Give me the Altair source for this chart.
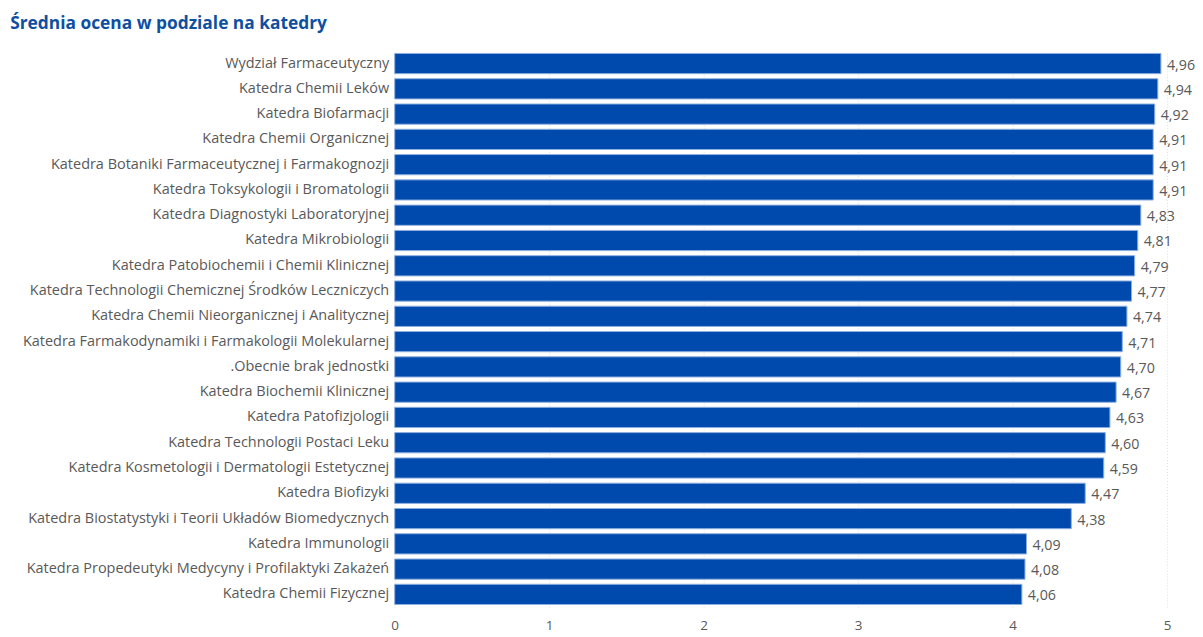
import altair as alt
import pandas as pd

categories = [
    "Wydział Farmaceutyczny",
    "Katedra Chemii Leków",
    "Katedra Biofarmacji",
    "Katedra Chemii Organicznej",
    "Katedra Botaniki Farmaceutycznej i Farmakognozji",
    "Katedra Toksykologii i Bromatologii",
    "Katedra Diagnostyki Laboratoryjnej",
    "Katedra Mikrobiologii",
    "Katedra Patobiochemii i Chemii Klinicznej",
    "Katedra Technologii Chemicznej Środków Leczniczych",
    "Katedra Chemii Nieorganicznej i Analitycznej",
    "Katedra Farmakodynamiki i Farmakologii Molekularnej",
    ".Obecnie brak jednostki",
    "Katedra Biochemii Klinicznej",
    "Katedra Patofizjologii",
    "Katedra Technologii Postaci Leku",
    "Katedra Kosmetologii i Dermatologii Estetycznej",
    "Katedra Biofizyki",
    "Katedra Biostatystyki i Teorii Układów Biomedycznych",
    "Katedra Immunologii",
    "Katedra Propedeutyki Medycyny i Profilaktyki Zakażeń",
    "Katedra Chemii Fizycznej",
]
values = [4.96, 4.94, 4.92, 4.91, 4.91, 4.91, 4.83, 4.81, 4.79, 4.77, 4.74,
          4.71, 4.70, 4.67, 4.63, 4.60, 4.59, 4.47, 4.38, 4.09, 4.08, 4.06]

df = pd.DataFrame({"katedra": categories, "ocena": values})
df["label"] = [f"{v:.2f}".replace(".", ",") for v in values]

FONT = "Open Sans"
GRAY = "#595959"

y_enc = alt.Y("katedra:N", sort=categories, title=None,
              scale=alt.Scale(paddingInner=0.2, paddingOuter=0.1),
              axis=alt.Axis(labelFont=FONT, labelFontSize=14.5, labelColor=GRAY,
                            ticks=False, domain=False, labelPadding=6,
                            labelLimit=500))
x_enc = alt.X("ocena:Q", title=None,
              scale=alt.Scale(domain=[0, 5], nice=False),
              axis=alt.Axis(values=[0, 1, 2, 3, 4, 5], format="d",
                            labelFont=FONT, labelFontSize=13.5, labelColor=GRAY,
                            labelFlush=False,
                            ticks=False, domain=False, labelPadding=12,
                            grid=True, gridColor="#dedede", gridDash=[1, 2]))

bars = alt.Chart(df).mark_bar(color="#004AAD", stroke="#8fb0e0", strokeWidth=1).encode(
    y=y_enc, x=x_enc
)
text = alt.Chart(df).mark_text(align="left", baseline="middle", dx=6, dy=2,
                               font=FONT, fontSize=14.3, color=GRAY).encode(
    y=alt.Y("katedra:N", sort=categories), x="ocena:Q", text="label:N"
)

chart = alt.layer(bars, text).properties(
    width=775, height=558,
    autosize=alt.AutoSizeParams(type="none"),
    padding={"left": 388, "top": 42, "right": 28, "bottom": 29},
    title=alt.TitleParams("Średnia ocena w podziale na katedry", anchor="start",
                          frame="bounds", font=FONT, fontSize=17.4, fontWeight="bold",
                          color="#0E4FA1", offset=19, dx=-12),
).configure_view(stroke=None)

chart.save("out.html", embed_options={"renderer": "svg", "actions": False})
